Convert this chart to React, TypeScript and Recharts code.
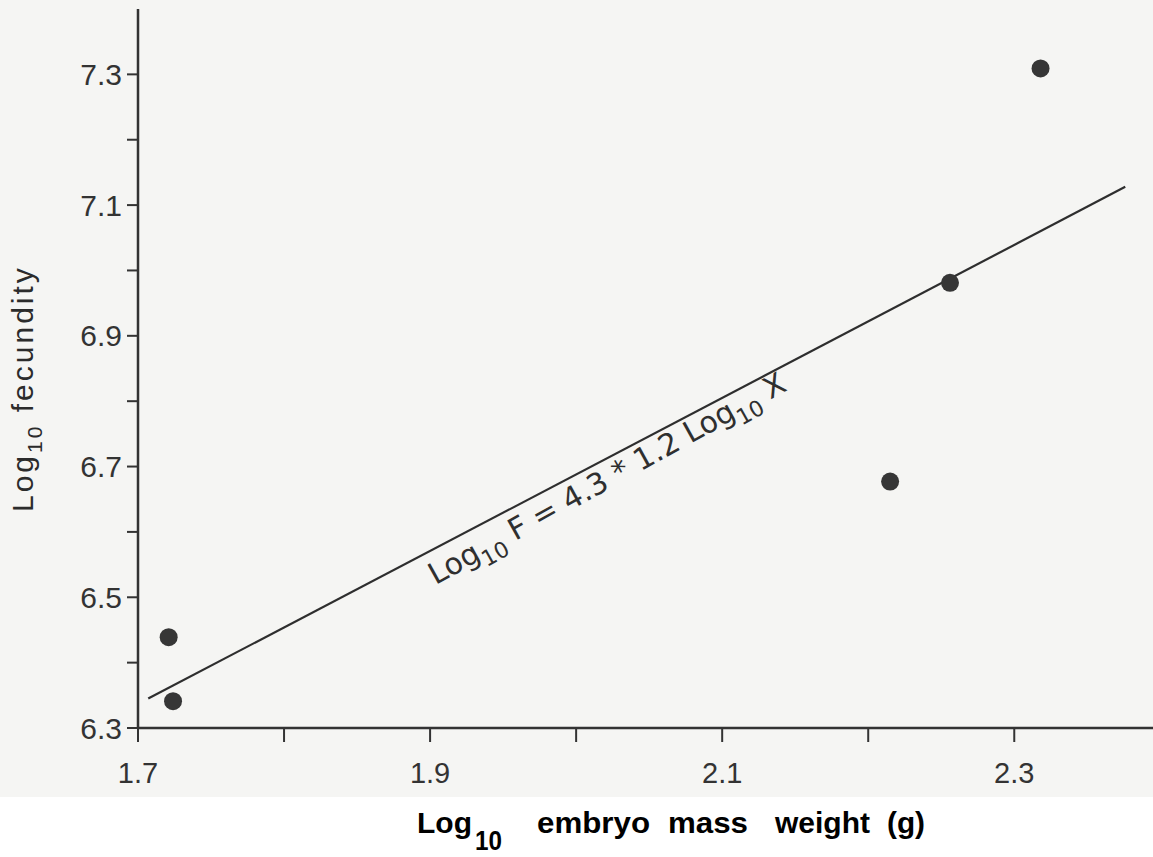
import { ScatterChart, Scatter, XAxis, YAxis, ReferenceDot, Customized } from 'recharts'

// observed crabs: log10 embryo mass weight vs log10 fecundity
const massLog = [1.721, 1.724, 2.215, 2.256, 2.318]
const fecundityLog = [6.439, 6.341, 6.677, 6.981, 7.309]

// fitted regression line end points
const fitMassLog = [1.707, 2.376]
const fitFecundityLog = [6.345, 7.128]

const xTicks = [1.7, 1.8, 1.9, 2.0, 2.1, 2.2, 2.3]
const xTickLabels = ['1.7', '', '1.9', '', '2.1', '', '2.3']
const yTicks = [6.3, 6.4, 6.5, 6.6, 6.7, 6.8, 6.9, 7.0, 7.1, 7.2, 7.3]
const yTickLabels = ['6.3', '', '6.5', '', '6.7', '', '6.9', '', '7.1', '', '7.3']

const points = massLog.map((x, i) => ({ x, y: fecundityLog[i] }))
const fitLine = fitMassLog.map((x, i) => ({ x, y: fitFecundityLog[i] }))

const ink = '#333'

const renderDot = (props: any) => <circle cx={props.cx} cy={props.cy} r={9} fill="#363636" />
const renderNothing = () => <g />

const renderFitLabel = (props: any) => {
  const { x, y } = props.viewBox
  return (
    <text
      x={x}
      y={y}
      dy="0.35em"
      textAnchor="middle"
      transform={`rotate(-29 ${x} ${y})`}
      fontFamily="DejaVu Sans"
      fontSize={30}
      fill="#2f2f2f"
    >
      Log<tspan dy={9} fontSize={22}>10</tspan>
      <tspan dy={-9}> F = 4.3 * 1.2 Log</tspan>
      <tspan dy={9} fontSize={22}>10</tspan>
      <tspan dy={-9}> X</tspan>
    </text>
  )
}

const AxisTitles = () => {
  const words: [string, number, number][] = [
    ['embryo', 537, 113],
    ['mass', 668, 80],
    ['weight', 775, 95],
    ['(g)', 887, 38]
  ]
  return (
    <g>
      <text
        transform="rotate(-90)"
        x={-512}
        y={33}
        fontFamily="Liberation Sans, Arial, sans-serif"
        fontSize={30}
        letterSpacing={3}
        fill="#2b2b2b"
      >
        Log<tspan dy={9} fontSize={21}>10</tspan>
        <tspan dy={-9}> fecundity</tspan>
      </text>
      <g fontFamily="Liberation Sans, Arial, sans-serif" fontWeight="bold" fill="#000">
        <text x={417} y={833} fontSize={30} textLength={55} lengthAdjust="spacingAndGlyphs">Log</text>
        <text x={475} y={850} fontSize={28} textLength={27} lengthAdjust="spacingAndGlyphs">10</text>
        {words.map(([w, x, len]) => (
          <text key={w} x={x} y={833} fontSize={30} textLength={len} lengthAdjust="spacingAndGlyphs">{w}</text>
        ))}
      </g>
    </g>
  )
}

export default function App() {
  return (
    <div
      style={{
        position: 'absolute',
        left: 0,
        top: 0,
        width: 1153,
        height: 857,
        background: 'linear-gradient(#f5f5f3 0, #f5f5f3 797px, #ffffff 797px)'
      }}
    >
      <ScatterChart
        width={1153}
        height={857}
        margin={{ top: 9, right: 0, bottom: 0, left: 0 }}
        style={{ fontFamily: 'Liberation Sans, Arial, sans-serif' }}
      >
        <XAxis
          type="number"
          dataKey="x"
          domain={[1.7, 2.395]}
          allowDataOverflow
          ticks={xTicks}
          interval={0}
          tickFormatter={(v: number, i: number) => xTickLabels[i] ?? ''}
          height={129}
          axisLine={{ stroke: ink, strokeWidth: 2.5 }}
          tickLine={{ stroke: ink, strokeWidth: 2 }}
          tickSize={14}
          tickMargin={20}
          tick={{ fill: ink, fontSize: 29 }}
        />
        <YAxis
          type="number"
          dataKey="y"
          domain={[6.3, 7.4]}
          allowDataOverflow
          ticks={yTicks}
          interval={0}
          tickFormatter={(v: number, i: number) => yTickLabels[i] ?? ''}
          width={138}
          axisLine={{ stroke: ink, strokeWidth: 2.5 }}
          tickLine={{ stroke: ink, strokeWidth: 2 }}
          tickSize={11}
          tickMargin={5}
          tick={{ fill: ink, fontSize: 30 }}
        />
        <Scatter
          data={fitLine}
          line={{ stroke: '#2e2e2e', strokeWidth: 2.2 }}
          shape={renderNothing}
          isAnimationActive={false}
        />
        <Scatter data={points} shape={renderDot} isAnimationActive={false} />
        <ReferenceDot
          x={2.021}
          y={6.682}
          r={0}
          fill="none"
          stroke="none"
          ifOverflow="visible"
          label={renderFitLabel}
        />
        <Customized component={<AxisTitles />} />
      </ScatterChart>
    </div>
  )
}
